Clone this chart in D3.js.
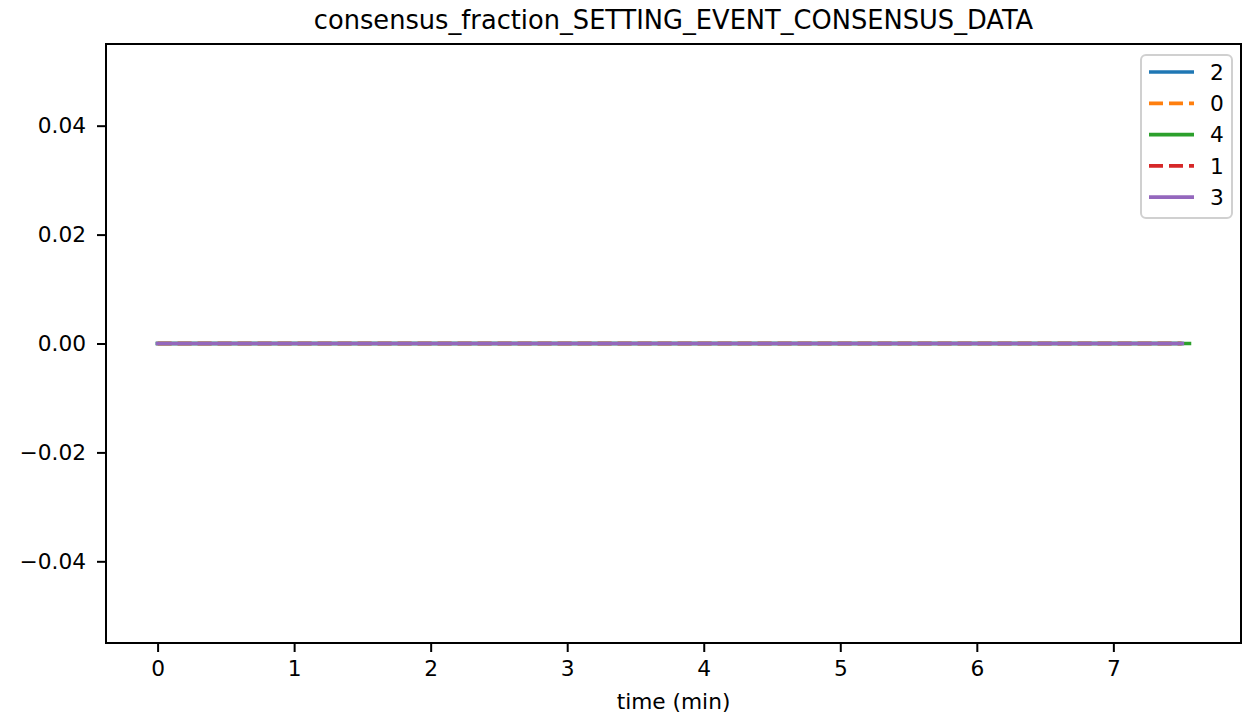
<!DOCTYPE html>
<html>
<head>
<meta charset="utf-8">
<script src="https://d3js.org/d3.v7.min.js"></script>
<style>
body { margin: 0; background: #fff; }
svg { font-family: "DejaVu Sans", sans-serif; }
</style>
</head>
<body>
<div id="chart"></div>
<script>
// data: every run stays at 0 the whole time
var seriesNames = ["2", "0", "4", "1", "3"];
var seriesColors = ["#1f77b4", "#ff7f0e", "#2ca02c", "#d62728", "#9467bd"];
var seriesDashed = [false, true, false, true, false];
var times_2 = [0, 1, 2, 3, 4, 5, 6, 7, 7.5];
var values_2 = [0, 0, 0, 0, 0, 0, 0, 0, 0];
var times_0 = [0, 1, 2, 3, 4, 5, 6, 7, 7.5];
var values_0 = [0, 0, 0, 0, 0, 0, 0, 0, 0];
var times_4 = [0, 1, 2, 3, 4, 5, 6, 7, 7.557];
var values_4 = [0, 0, 0, 0, 0, 0, 0, 0, 0];
var times_1 = [0, 1, 2, 3, 4, 5, 6, 7, 7.5];
var values_1 = [0, 0, 0, 0, 0, 0, 0, 0, 0];
var times_3 = [0, 1, 2, 3, 4, 5, 6, 7, 7.505];
var values_3 = [0, 0, 0, 0, 0, 0, 0, 0, 0];
var xTicks = [0, 1, 2, 3, 4, 5, 6, 7];
var yTicks = [-0.04, -0.02, 0, 0.02, 0.04];

var allTimes = [times_2, times_0, times_4, times_1, times_3];
var allValues = [values_2, values_0, values_4, values_1, values_3];

var W = 1243, H = 718;
var margin = {top: 44, right: 2, bottom: 75, left: 106};
var width = W - margin.left - margin.right,
    height = H - margin.top - margin.bottom;

var svg = d3.select("#chart").append("svg")
    .attr("width", W).attr("height", H);
var g = svg.append("g")
    .attr("transform", "translate(" + margin.left + "," + margin.top + ")");

// matplotlib-like 5% margins on x
var xmax = d3.max(allTimes, function(t) { return d3.max(t); });
var x = d3.scaleLinear()
    .domain([-0.05 * xmax, 1.05 * xmax])
    .range([0, width]);
var y = d3.scaleLinear()
    .domain([-0.055, 0.055])
    .range([height, 0]);

// lines
var line = d3.line()
    .x(function(d) { return x(d[0]); })
    .y(function(d) { return y(d[1]); });

seriesNames.forEach(function(name, i) {
  var pts = allTimes[i].map(function(t, j) { return [t, allValues[i][j]]; });
  g.append("path")
    .datum(pts)
    .attr("fill", "none")
    .attr("stroke", seriesColors[i])
    .attr("stroke-width", 3.7)
    .attr("stroke-linecap", seriesDashed[i] ? "butt" : "square")
    .attr("stroke-dasharray", seriesDashed[i] ? "14,6" : null)
    .attr("d", line);
});

// axes
var xAxis = g.append("g")
    .attr("transform", "translate(0," + height + ")")
    .call(d3.axisBottom(x).tickValues(xTicks).tickSize(9).tickPadding(9)
      .tickFormat(d3.format("d")));
var yAxis = g.append("g")
    .call(d3.axisLeft(y).tickValues(yTicks).tickSize(9).tickPadding(11)
      .tickFormat(function(d) { return d3.format(".2f")(d).replace("-", "\u2212"); }));
[xAxis, yAxis].forEach(function(a) {
  a.select(".domain").remove();
  a.selectAll("line").attr("stroke", "#000").attr("stroke-width", 2);
  a.selectAll("text").attr("fill", "#000")
    .style("font-family", "DejaVu Sans").style("font-size", "21.7px");
});

// frame
g.append("rect")
    .attr("width", width).attr("height", height)
    .attr("fill", "none").attr("stroke", "#000").attr("stroke-width", 2);

// title and x label
svg.append("text")
    .attr("x", margin.left + width / 2).attr("y", 29)
    .attr("text-anchor", "middle")
    .style("font-size", "25.7px")
    .text("consensus_fraction_SETTING_EVENT_CONSENSUS_DATA");
svg.append("text")
    .attr("x", margin.left + width / 2).attr("y", 709)
    .attr("text-anchor", "middle")
    .style("font-size", "21.7px")
    .text("time (min)");

// legend
var leg = svg.append("g").attr("transform", "translate(1141,55)");
leg.append("rect")
    .attr("width", 91).attr("height", 163).attr("rx", 5)
    .attr("fill", "#fff").attr("fill-opacity", 0.8)
    .attr("stroke", "#d0d0d0").attr("stroke-width", 2);
seriesNames.forEach(function(name, i) {
  var ly = 17 + i * 31.3;
  leg.append("line")
    .attr("x1", 8).attr("x2", 53).attr("y1", ly).attr("y2", ly)
    .attr("stroke", seriesColors[i]).attr("stroke-width", 3.7)
    .attr("stroke-dasharray", seriesDashed[i] ? "14,6" : null);
  leg.append("text")
    .attr("x", 69).attr("y", ly).attr("dy", "0.36em")
    .style("font-size", "21.7px")
    .text(name);
});
</script>
</body>
</html>
